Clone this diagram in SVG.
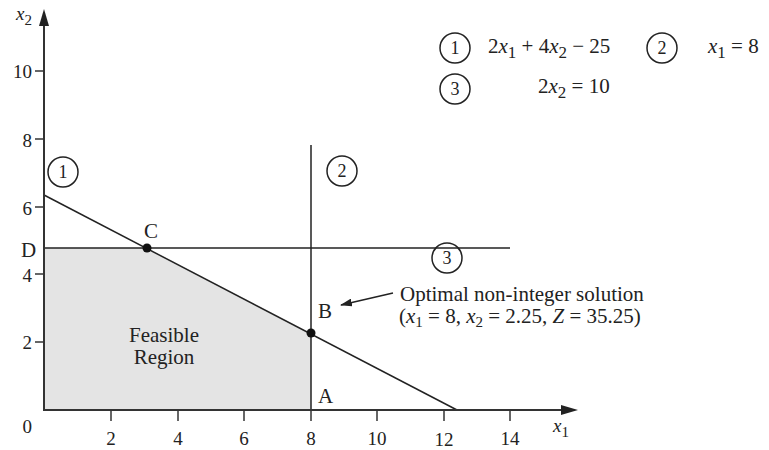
<svg xmlns="http://www.w3.org/2000/svg" width="769" height="450" viewBox="0 0 769 450">
<style>
text{font-family:"Liberation Serif","Times New Roman",serif;fill:#222}
.t{font-size:19px}
.lbl{font-size:21px}
.ci{fill:none;stroke:#222;stroke-width:1.5}
.cn{font-size:18px;text-anchor:middle}
.ln{stroke:#222;stroke-width:1.5;fill:none}
.ax{stroke:#333;stroke-width:2;fill:none}
.i{font-style:italic}
</style>
<defs>
<marker id="ah" markerWidth="12" markerHeight="8" refX="11" refY="4" orient="auto" markerUnits="userSpaceOnUse"><path d="M0,0 L12,4 L0,8 Z" fill="#222"/></marker>
</defs>
<rect width="769" height="450" fill="#fff"/>
<g id="feasible-region">
<polygon points="44,248 147,248 311,333 311,410 44,410" fill="#e4e4e4"/>
<text class="lbl" x="164" y="342" text-anchor="middle">Feasible</text>
<text class="lbl" x="164" y="364" text-anchor="middle">Region</text>
</g>
<g id="connectors">
<line class="ln" x1="44" y1="195" x2="457" y2="410"/>
<line class="ln" x1="311" y1="145" x2="311" y2="410"/>
<line class="ln" x1="44" y1="248" x2="510" y2="248"/>
<line class="ln" x1="393" y1="293" x2="341" y2="305" marker-end="url(#ah)"/>
</g>
<g id="axes">
<line class="ax" x1="44" y1="411" x2="44" y2="22"/>
<polygon points="44,9 39,26 49,26" fill="#222"/>
<line class="ax" x1="43" y1="410" x2="562" y2="410"/>
<polygon points="578,410 561,405 561,415" fill="#222"/>
<g stroke="#333" stroke-width="1.5">
<line x1="111" y1="410" x2="111" y2="421"/>
<line x1="178" y1="410" x2="178" y2="421"/>
<line x1="244" y1="410" x2="244" y2="421"/>
<line x1="311" y1="410" x2="311" y2="421"/>
<line x1="377" y1="410" x2="377" y2="421"/>
<line x1="444" y1="410" x2="444" y2="421"/>
<line x1="510" y1="410" x2="510" y2="421"/>
<line x1="35" y1="342" x2="44" y2="342"/>
<line x1="35" y1="274" x2="44" y2="274"/>
<line x1="35" y1="207" x2="44" y2="207"/>
<line x1="35" y1="139" x2="44" y2="139"/>
<line x1="35" y1="71" x2="44" y2="71"/>
</g>
<g class="t" text-anchor="middle">
<text x="111" y="445">2</text>
<text x="178" y="445">4</text>
<text x="244" y="445">6</text>
<text x="311" y="445">8</text>
<text x="377" y="445">10</text>
<text x="444" y="446">12</text>
<text x="510" y="445">14</text>
</g>
<g class="t" text-anchor="end">
<text x="32" y="433">0</text>
<text x="32" y="349">2</text>
<text x="32" y="282">4</text>
<text x="32" y="215">6</text>
<text x="32" y="147">8</text>
<text x="32" y="78">10</text>
</g>
<text class="t" x="553" y="432"><tspan class="i">x</tspan><tspan font-size="15" dy="5">1</tspan></text>
<text class="t" x="16" y="20"><tspan class="i">x</tspan><tspan font-size="15" dy="5">2</tspan></text>
</g>
<g id="points">
<circle cx="147" cy="248" r="4.5" fill="#111"/>
<circle cx="311" cy="333" r="4.5" fill="#111"/>
<text class="lbl" x="144" y="238">C</text>
<text class="lbl" x="21" y="257">D</text>
<text class="lbl" x="318" y="318">B</text>
<text class="lbl" x="318" y="403">A</text>
</g>
<g id="line-labels">
<circle class="ci" cx="63" cy="172" r="15"/><text class="cn" x="63" y="178">1</text>
<circle class="ci" cx="342" cy="171" r="15"/><text class="cn" x="342" y="177">2</text>
<circle class="ci" cx="447" cy="258" r="15"/><text class="cn" x="447" y="264">3</text>
</g>
<g id="annotation">
<text class="lbl" x="400" y="301">Optimal non-integer solution</text>
<text class="lbl" x="399" y="323">(<tspan class="i">x</tspan><tspan font-size="15" dy="4">1</tspan><tspan dy="-4"> = 8, </tspan><tspan class="i">x</tspan><tspan font-size="15" dy="4">2</tspan><tspan dy="-4"> = 2.25, </tspan><tspan class="i">Z</tspan> = 35.25)</text>
</g>
<g id="legend">
<circle class="ci" cx="455" cy="48" r="15"/><text class="cn" x="455" y="54">1</text>
<text class="lbl" x="488" y="53" font-size="23">2<tspan class="i">x</tspan><tspan font-size="17" dy="5">1</tspan><tspan dy="-5"> + 4</tspan><tspan class="i">x</tspan><tspan font-size="17" dy="5">2</tspan><tspan dy="-5"> − 25</tspan></text>
<circle class="ci" cx="662" cy="48" r="15"/><text class="cn" x="662" y="54">2</text>
<text class="lbl" x="708" y="53" font-size="23"><tspan class="i">x</tspan><tspan font-size="17" dy="5">1</tspan><tspan dy="-5"> = 8</tspan></text>
<circle class="ci" cx="455" cy="89" r="15"/><text class="cn" x="455" y="95">3</text>
<text class="lbl" x="538" y="93" font-size="23">2<tspan class="i">x</tspan><tspan font-size="17" dy="5">2</tspan><tspan dy="-5"> = 10</tspan></text>
</g>
</svg>
